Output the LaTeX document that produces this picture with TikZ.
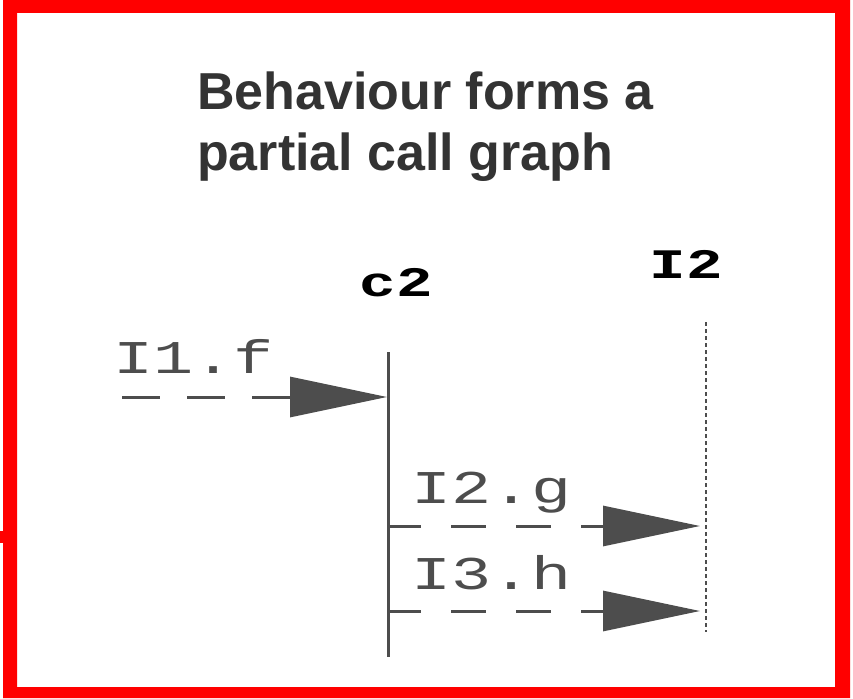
\documentclass[tikz,border=0pt]{standalone}
\usepackage{fontspec}
\setmainfont{Liberation Sans}
\newfontfamily\msgfont[FakeStretch=1.42]{Liberation Mono}
\newfontfamily\objfont[FakeStretch=1.45]{Liberation Mono}
\usetikzlibrary{arrows.meta}
\definecolor{framered}{RGB}{255,0,0}
\definecolor{inkgray}{RGB}{77,77,77}
\definecolor{titlegray}{RGB}{51,51,51}

\begin{document}
\begin{tikzpicture}[x=1pt, y=-1pt,
msg/.style={draw=inkgray, line width=3pt, dash pattern=on 35pt off 30pt, -{Triangle[length=97pt,width=40pt]}},
lbl/.style={anchor=base west, inner sep=0pt, text=inkgray, font=\msgfont\fontsize{47}{47}\selectfont},
obj/.style={anchor=base, inner sep=0pt, font=\objfont\bfseries\fontsize{42}{42}\selectfont},
ttl/.style={anchor=base west, inner sep=0pt, text=titlegray, font=\bfseries\fontsize{52}{60}\selectfont}
]
\useasboundingbox (0,0) rectangle (853,698);

% ---------- FRAME ----------
\fill[framered, even odd rule] (3,0) rectangle (850,698) (17,13) rectangle (835,687);
\fill[framered] (0,531) rectangle (3,543);

% ---------- TITLE ----------
\node[ttl] (title1) at (197,110) {Behaviour forms a};
\node[ttl] (title2) at (197,170) {partial call graph};

% ---------- LIFELINES ----------
\node[obj] (c2) at (396,296) {c2};
\node[obj] (i2) at (686,278) {I2};

\coordinate (c2top) at (388,352);
\coordinate (c2bot) at (388,657);
\coordinate (i2top) at (706,322);
\coordinate (i2bot) at (706,632);

\draw[inkgray, line width=3pt] (c2top) -- (c2bot);
\draw[inkgray, line width=1.8pt, dash pattern=on 3.5pt off 3.5pt] (i2top) -- (i2bot);

% ---------- MESSAGES ----------
% found message into c2
\coordinate (fstart) at (122,397);
\coordinate (c2f) at (387,397);
\draw[msg, dash pattern=on 38pt off 27pt] (fstart) -- (c2f);
\node[lbl] (lblf) at (113,373) {I1.f};

% calls from c2 to I2
\coordinate (c2g) at (390,526);
\coordinate (i2g) at (706,526);
\coordinate (c2h) at (390,611);
\coordinate (i2h) at (706,611);

\draw[msg, dash phase=4pt, shorten >=6pt] (c2g) -- (i2g);
\node[lbl] (lblg) at (411,503) {I2.g};

\draw[msg, dash phase=4pt, shorten >=6pt] (c2h) -- (i2h);
\node[lbl] (lblh) at (411,589) {I3.h};

\end{tikzpicture}
\end{document}
